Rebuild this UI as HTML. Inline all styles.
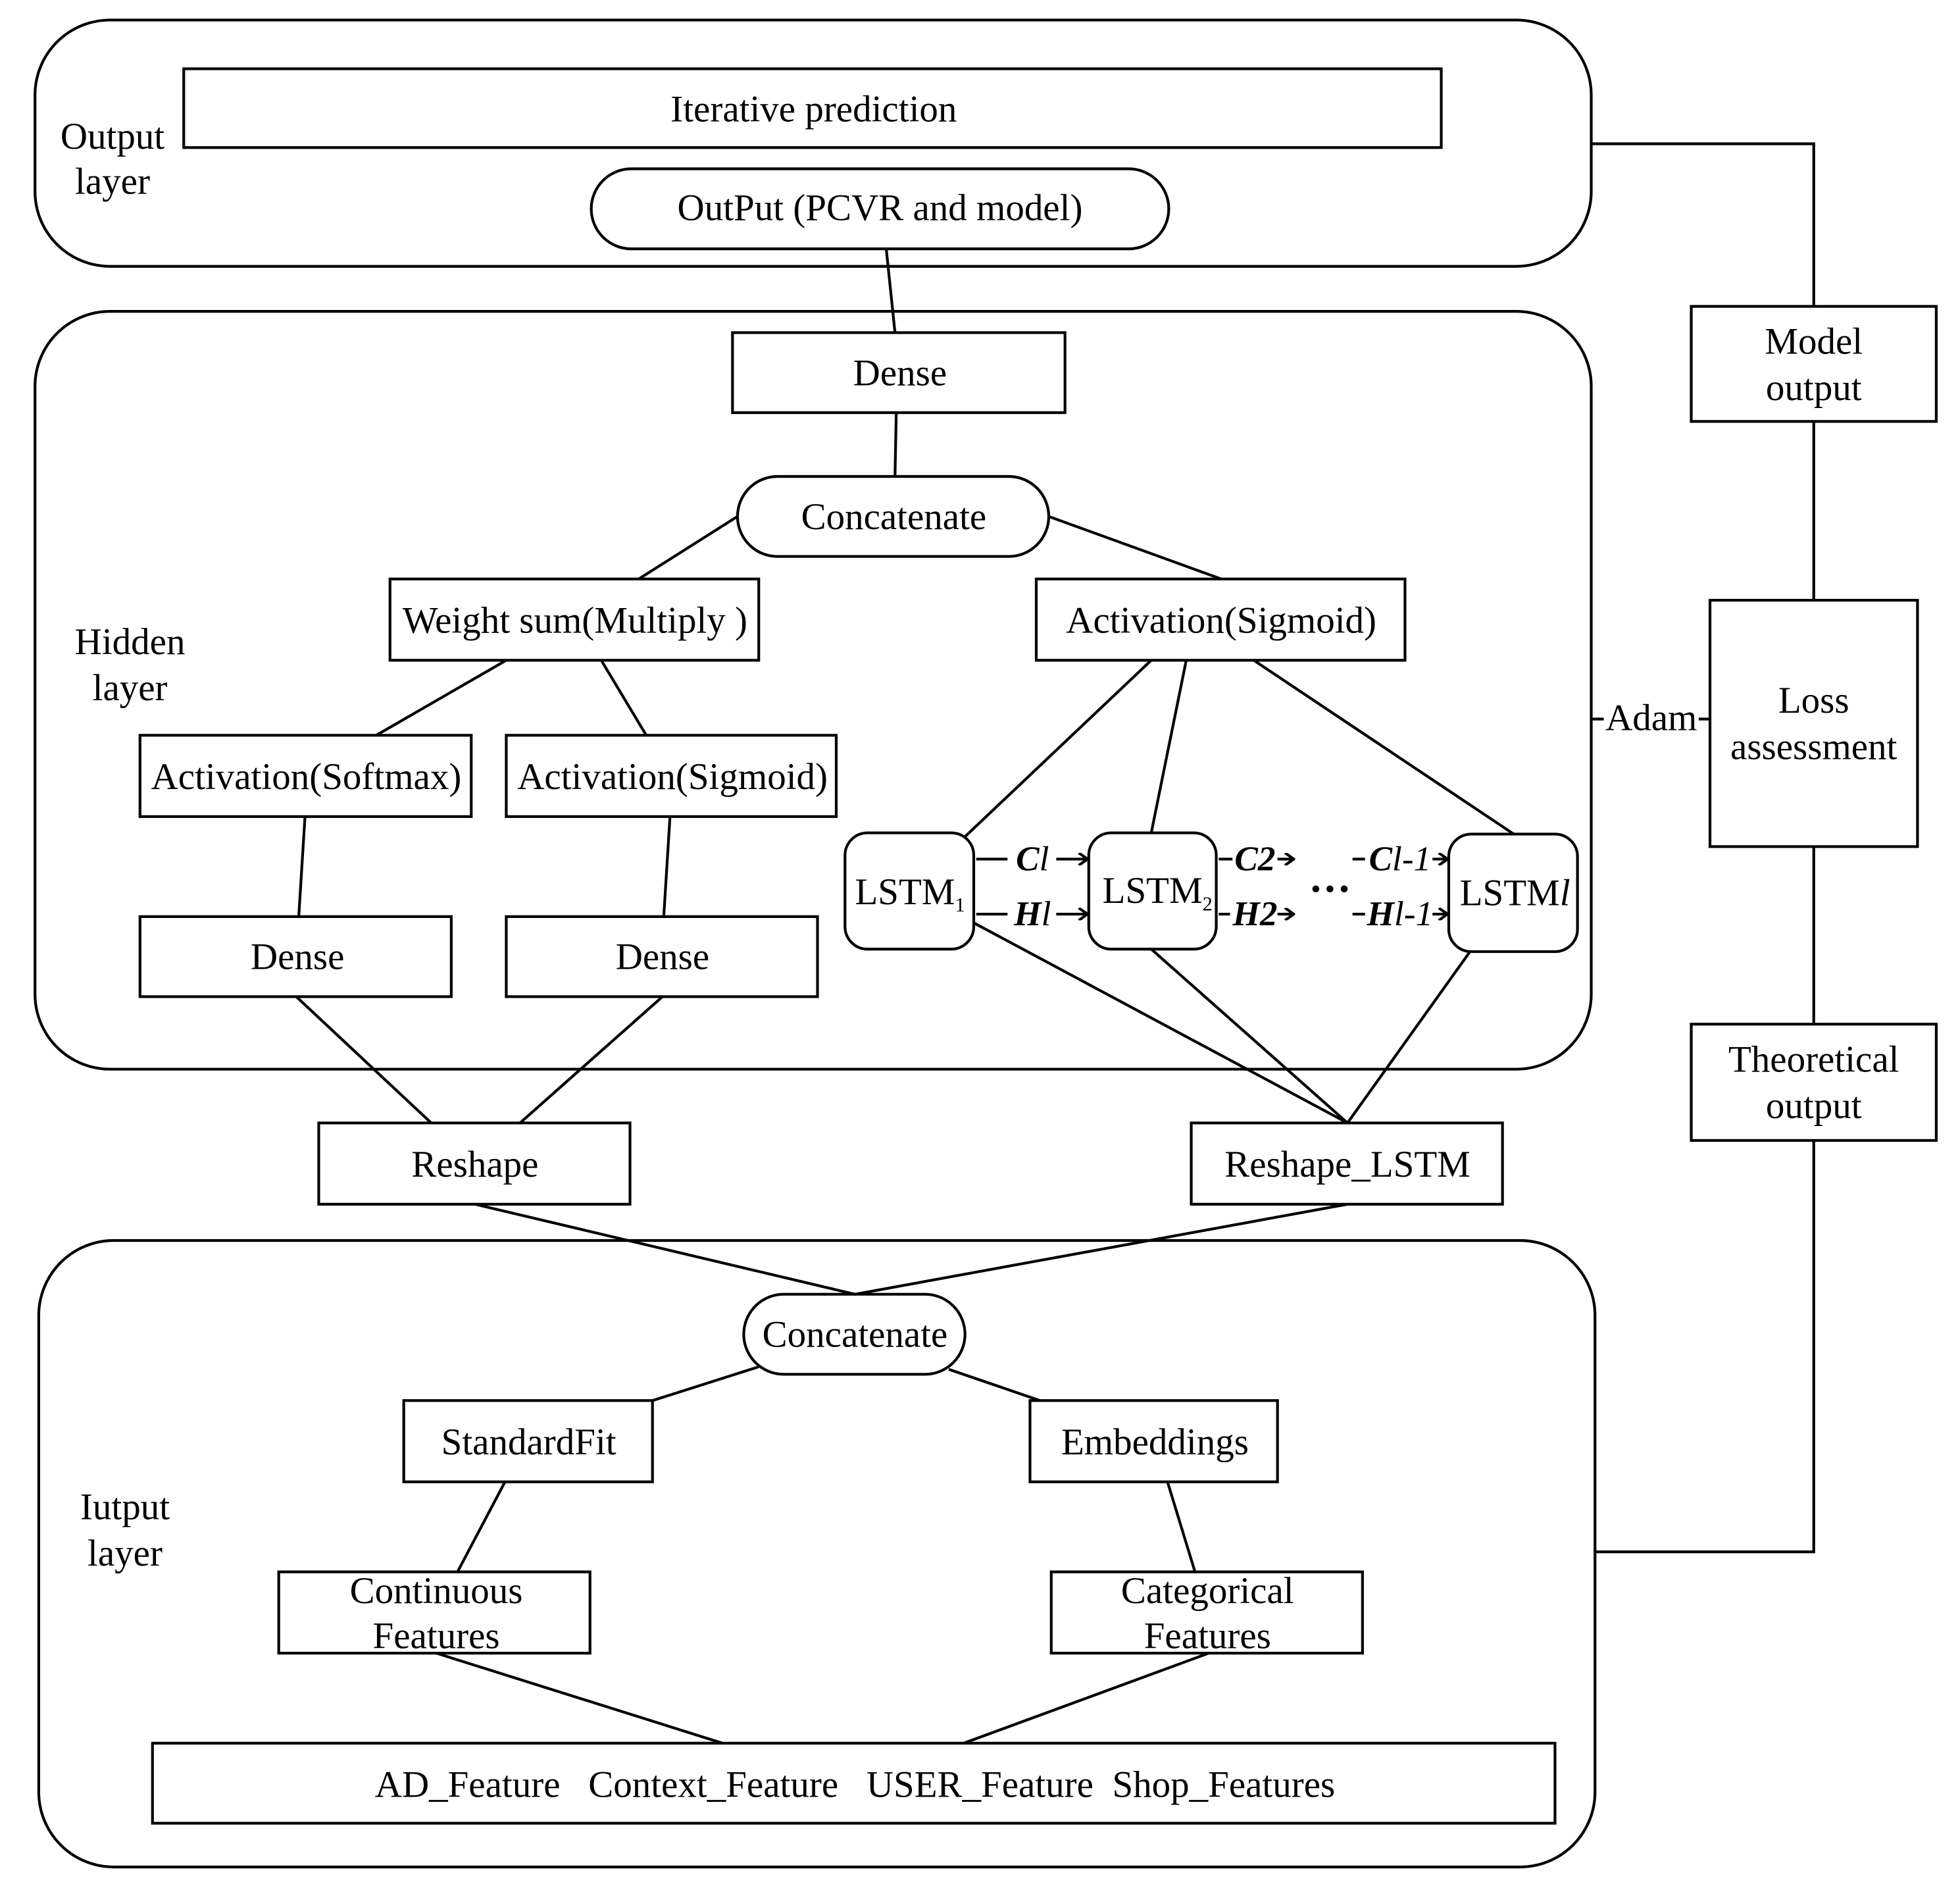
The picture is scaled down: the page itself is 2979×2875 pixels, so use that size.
<!DOCTYPE html>
<html><head><meta charset="utf-8"><style>html,body{margin:0;padding:0;background:#fff}svg{display:block}</style></head>
<body>
<svg width="2979" height="2875" viewBox="0 0 1568 1513" preserveAspectRatio="none" xmlns="http://www.w3.org/2000/svg" font-family="'Liberation Serif',serif" font-size="30" fill="none" stroke="#000" stroke-width="2.2">
<defs><marker id="a" markerWidth="10" markerHeight="10" refX="9" refY="5" orient="auto" markerUnits="userSpaceOnUse"><path d="M2,0 L9,5 L2,10" stroke="#000" stroke-width="2.2" fill="none"/></marker></defs>
<rect x="28" y="16" width="1245" height="197" rx="60"/>
<rect x="28" y="249" width="1245" height="606" rx="60"/>
<rect x="31" y="992" width="1245" height="501" rx="60"/>
<rect x="147" y="55" width="1006" height="63"/>
<rect x="473" y="135" width="462" height="64" rx="32"/>
<rect x="586" y="266" width="266" height="64"/>
<rect x="590" y="381" width="249" height="64" rx="32"/>
<rect x="312" y="463" width="295" height="65"/>
<rect x="829" y="463" width="295" height="65"/>
<rect x="112" y="588" width="265" height="65"/>
<rect x="405" y="588" width="264" height="65"/>
<rect x="112" y="733" width="249" height="64"/>
<rect x="405" y="733" width="249" height="64"/>
<rect x="255" y="898" width="249" height="65"/>
<rect x="953" y="898" width="249" height="65"/>
<rect x="676" y="666" width="103" height="93" rx="18"/>
<rect x="871" y="666" width="102" height="93" rx="18"/>
<rect x="1159" y="667" width="103" height="94" rx="18"/>
<rect x="595" y="1035" width="177" height="64" rx="32"/>
<rect x="323" y="1120" width="199" height="65"/>
<rect x="824" y="1120" width="198" height="65"/>
<rect x="223" y="1257" width="249" height="65"/>
<rect x="841" y="1257" width="249" height="65"/>
<rect x="122" y="1394" width="1122" height="64"/>
<rect x="1353" y="245" width="196" height="92"/>
<rect x="1368" y="480" width="166" height="197"/>
<rect x="1353" y="819" width="196" height="93"/>
<path d="M709,199 L716,266 M717,330 L716,381 M590,413 L511,463 M839,413 L977,463 M405,528 L301,588 M481,528 L517,588 M244,653 L239,733 M536,653 L531,733 M237,797 L345,898 M530,797 L416,898 M380,963 L684,1035 L1078,963 M921,528 L771,670 M949,528 L921,666 M1003,528 L1211,667 M779,738 L1078,898 M921,759 L1078,898 M1176,761 L1078,898 M607,1093 L522,1120 M759,1095 L832,1120 M404,1185 L366,1257 M934,1185 L956,1257 M349,1322 L578,1394 M967,1322 L771,1394 M1273,115 L1451,115 L1451,245 M1451,337 L1451,480 M1451,677 L1451,819 M1451,912 L1451,1241 L1276,1241 M1273,575 L1283,575 M1359,575 L1368,575"/>
<g>
<path d="M781,687 L806,687 M845,687 L870,687" marker-end="url(#a)"/>
<path d="M781,731 L806,731 M845,731 L870,731" marker-end="url(#a)"/>
<path d="M975,687 L986,687 M1022,687 L1035,687" marker-end="url(#a)"/>
<path d="M975,731 L984,731 M1022,731 L1035,731" marker-end="url(#a)"/>
<path d="M1082,687 L1092,687 M1146,687 L1158,687" marker-end="url(#a)"/>
<path d="M1082,731 L1092,731 M1146,731 L1158,731" marker-end="url(#a)"/>
</g>
<g fill="#000" stroke="none" text-anchor="middle">
<text x="651" y="97">Iterative prediction</text>
<text x="704" y="176">OutPut (PCVR and model)</text>
<text x="90" y="119">Output</text><text x="90" y="155">layer</text>
<text x="720" y="308">Dense</text>
<text x="715" y="423">Concatenate</text>
<text x="460" y="506">Weight sum(Multiply )</text>
<text x="977" y="506">Activation(Sigmoid)</text>
<text x="245" y="631">Activation(Softmax)</text>
<text x="538" y="631">Activation(Sigmoid)</text>
<text x="238" y="775">Dense</text>
<text x="530" y="775">Dense</text>
<text x="104" y="523">Hidden</text><text x="104" y="560">layer</text>
<text x="380" y="941">Reshape</text>
<text x="1078" y="941">Reshape_LSTM</text>
<text x="728" y="723">LSTM<tspan font-size="16" dy="6">1</tspan></text>
<text x="926" y="722">LSTM<tspan font-size="16" dy="6">2</tspan></text>
<text x="1212" y="724">LSTM<tspan font-style="italic">l</tspan></text>
<g font-style="italic" font-weight="bold" font-size="28">
<text x="826" y="696">C<tspan font-weight="normal">l</tspan></text>
<text x="826" y="740">H<tspan font-weight="normal">l</tspan></text>
<text x="1004" y="696">C2</text>
<text x="1004" y="740">H2</text>
<text x="1120" y="696">C<tspan font-weight="normal">l-1</tspan></text>
<text x="1120" y="740">H<tspan font-weight="normal">l-1</tspan></text>
</g>
<text x="1064" y="722" font-size="34" font-weight="bold">···</text>
<text x="684" y="1077">Concatenate</text>
<text x="423" y="1163">StandardFit</text>
<text x="924" y="1163">Embeddings</text>
<text x="349" y="1282">Continuous</text><text x="349" y="1318">Features</text>
<text x="966" y="1282">Categorical</text><text x="966" y="1318">Features</text>
<text x="684" y="1437" xml:space="preserve">AD_Feature   Context_Feature   USER_Feature  Shop_Features</text>
<text x="100" y="1215">Iutput</text><text x="100" y="1252">layer</text>
<text x="1451" y="283">Model</text><text x="1451" y="320">output</text>
<text x="1451" y="570">Loss</text><text x="1451" y="607">assessment</text>
<text x="1451" y="857">Theoretical</text><text x="1451" y="894">output</text>
<text x="1321" y="584">Adam</text>
</g>
</svg>
</body></html>
